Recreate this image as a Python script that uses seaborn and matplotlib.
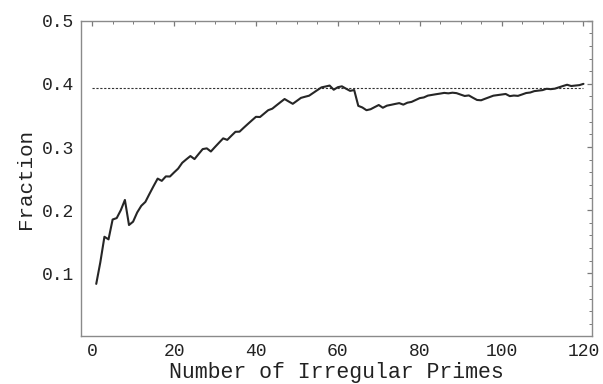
import numpy as np
import pandas as pd
import seaborn as sns
import matplotlib.pyplot as plt
from matplotlib.ticker import MultipleLocator

# 数据: 第 n 个非正则素数时的比例
n_primes = list(range(1, 121))
fraction = [
    0.0833, 0.1176, 0.1579, 0.1538, 0.1852, 0.1875, 0.2000, 0.2162, 0.1765, 0.1818,
    0.1964, 0.2069, 0.2131, 0.2258, 0.2381, 0.2500, 0.2464, 0.2535, 0.2533, 0.2597,
    0.2658, 0.2750, 0.2805, 0.2857, 0.2809, 0.2889, 0.2967, 0.2979, 0.2929, 0.3000,
    0.3069, 0.3137, 0.3113, 0.3178, 0.3241, 0.3243, 0.3304, 0.3363, 0.3421, 0.3478,
    0.3475, 0.3529, 0.3583, 0.3607, 0.3659, 0.3710, 0.3760, 0.3721, 0.3684, 0.3731,
    0.3778, 0.3796, 0.3813, 0.3857, 0.3901, 0.3944, 0.3958, 0.3973, 0.3907, 0.3947,
    0.3961, 0.3924, 0.3889, 0.3902, 0.3652, 0.3626, 0.3583, 0.3598, 0.3632, 0.3665,
    0.3622, 0.3655, 0.3668, 0.3682, 0.3695, 0.3671, 0.3702, 0.3714, 0.3744, 0.3774,
    0.3785, 0.3814, 0.3825, 0.3836, 0.3846, 0.3857, 0.3850, 0.3860, 0.3853, 0.3830,
    0.3808, 0.3817, 0.3780, 0.3745, 0.3740, 0.3765, 0.3789, 0.3813, 0.3822, 0.3831,
    0.3840, 0.3806, 0.3815, 0.3810, 0.3832, 0.3855, 0.3863, 0.3885, 0.3893, 0.3901,
    0.3922, 0.3916, 0.3924, 0.3945, 0.3966, 0.3986, 0.3966, 0.3973, 0.3980, 0.4000,
]
limit_value = 0.3935

# スタイル
sns.set_theme(style="white")
plt.rcParams['font.family'] = ['Liberation Mono', 'DejaVu Sans Mono']

df = pd.DataFrame({'n': n_primes, 'frac': fraction})

fig = plt.figure(figsize=(6.03, 3.84), dpi=100)
ax = fig.add_axes([0.1338, 0.1237, 0.8474, 0.8224])

# 参考線
ax.hlines(limit_value, 0, n_primes[-1], colors='#333333', linewidth=0.8,
          linestyles=(0, (2, 1.5)))
sns.lineplot(data=df, x='n', y='frac', color='#262626', linewidth=1.5, ax=ax)

ax.set_xlim(-2.8, 122)
ax.set_ylim(0, 0.5)
ax.xaxis.set_major_locator(MultipleLocator(20))
ax.xaxis.set_minor_locator(MultipleLocator(5))
ax.yaxis.set_minor_locator(MultipleLocator(0.02))
ax.set_yticks([0.1, 0.2, 0.3, 0.4, 0.5])
ax.set_yticklabels(['0.1', '0.2', '0.3', '0.4', '0.5'])

for s in ax.spines.values():
    s.set_color('#8a8a8a')
    s.set_linewidth(1.0)

ax.tick_params(which='both', direction='in', top=True, right=True,
               colors='#7a7a7a', labelcolor='#222222')
ax.tick_params(which='major', length=3.5, width=0.9, labelsize=13, pad=5)
ax.tick_params(which='minor', length=2, width=0.7)

ax.set_xlabel('Number of Irregular Primes', fontsize=15.5, color='#222222', labelpad=1)
ax.set_ylabel('Fraction', fontsize=15, color='#222222', labelpad=5)

plt.savefig('out.png', dpi=100)
